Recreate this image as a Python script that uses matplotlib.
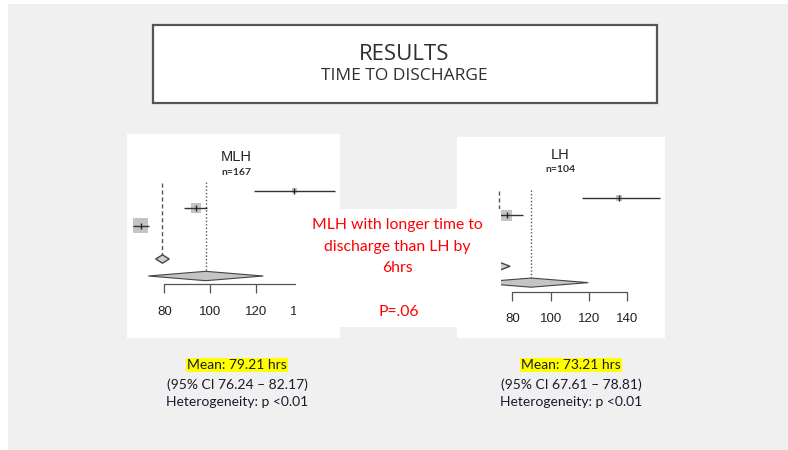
import numpy as np
import matplotlib
matplotlib.use('Agg')
from matplotlib import pyplot as plt
from matplotlib.patches import Rectangle, Polygon

W, H = 788, 450

# MLH forest plot (time to discharge, hrs)
mlh_rows = [1, 2, 3]
mlh_est = [136.9, 93.7, 69.7]
mlh_lo = [119.4, 88.8, 66.5]
mlh_hi = [154.9, 98.5, 73.4]
mlh_wt = [13, 52, 117]
mlh_summary = (76.24, 79.21, 82.17)
mlh_overall = (73.0, 98.1, 123.3)

# LH forest plot
lh_rows = [1, 2]
lh_est = [135.9, 77.2]
lh_lo = [116.2, 69.0]
lh_hi = [157.1, 85.4]
lh_wt = [19, 63]
lh_summary = (67.61, 73.21, 78.81)
lh_overall = (60.0, 89.8, 119.7)

ticks = [80, 100, 120, 140]

SLIDE_FONT = ['Lato', 'DejaVu Sans']
TITLE_FONT = ['Open Sans', 'DejaVu Sans']
PLOT_FONT = ['Liberation Sans', 'DejaVu Sans']


def px_axes(fig, x0, y0, x1, y1):
    # axes placed with slide pixel coordinates
    return fig.add_axes([x0 / W, (H - y1) / H, (x1 - x0) / W, (y1 - y0) / H])


def forest(ax, rows, est, lo, hi, wt, summary, summary_row, overall, overall_row,
           axis_row, dashed_rows, dotted_val, dotted_rows, title, n):
    ax.set_facecolor('white')
    for sp in ['top', 'left', 'right']:
        ax.spines[sp].set_visible(False)
    ax.hlines(rows, lo, hi, color='#333333', lw=1.0, zorder=3)
    ax.scatter(est, rows, s=wt, marker='s', color='#c4c4c4', lw=0, zorder=2)
    ax.scatter(est, rows, s=14, marker='|', color='#222222', lw=1.0, zorder=4)
    # summary diamond
    l, c, r = summary
    ax.add_patch(Polygon([[l, summary_row], [c, summary_row - 0.24], [r, summary_row],
                          [c, summary_row + 0.24]], closed=True, fc='#cfcfcf',
                         ec='#444444', lw=1.0, zorder=3))
    l, c, r = overall
    ax.add_patch(Polygon([[l, overall_row], [c, overall_row - 0.27], [r, overall_row],
                          [c, overall_row + 0.27]], closed=True, fc='#c4c4c4',
                         ec='#444444', lw=0.8, zorder=3))
    ax.vlines(summary[1], dashed_rows[0], dashed_rows[1], color='#555555', lw=1.0,
              linestyles=(0, (3, 2)), zorder=1)
    ax.vlines(dotted_val, dotted_rows[0], dotted_rows[1], color='#555555', lw=1.0,
              linestyles=(0, (1, 1.5)), zorder=1)
    ax.spines['bottom'].set_position(('data', axis_row))
    ax.spines['bottom'].set_bounds(ticks[0], ticks[-1])
    ax.spines['bottom'].set_color('#555555')
    ax.spines['bottom'].set_linewidth(0.9)
    ax.set_xticks(ticks)
    ax.set_yticks([])
    ax.tick_params(axis='x', direction='out', length=6.5, width=0.9, color='#555555',
                   pad=9, labelsize=9.5, labelcolor='#222222')
    for lab in ax.get_xticklabels():
        lab.set_family(PLOT_FONT)
    ax.text(title[0], title[1], title[2], transform=ax.transAxes, ha='center',
            va='center', fontsize=10.5, color='#222222', family=PLOT_FONT)
    ax.text(n[0], n[1], n[2], transform=ax.transAxes, ha='center', va='center',
            fontsize=7.5, fontweight='bold', color='#333333', family=SLIDE_FONT)


fig = plt.figure(figsize=(W / 100, H / 100), dpi=100, facecolor='white')

bg = fig.add_axes([0, 0, 1, 1])
bg.set_xlim(0, W)
bg.set_ylim(H, 0)
bg.axis('off')
bg.add_patch(Rectangle((8, 4), W - 8, H - 4, fc='#f0f0f0', ec='none'))
bg.add_patch(Rectangle((153, 25), 504, 78, fc='white', ec='#555555', lw=1.6))
bg.text(404, 54, 'RESULTS', ha='center', va='center', fontsize=16, color='#2e2e2e',
        family=TITLE_FONT)
bg.text(404, 76, 'TIME TO DISCHARGE', ha='center', va='center', fontsize=12.5,
        color='#2e2e2e', family=TITLE_FONT)

for cx, mean, ci in [(237, 'Mean: 79.21 hrs', '(95% CI 76.24 \u2013 82.17)'),
                     (571, 'Mean: 73.21 hrs', '(95% CI 67.61 \u2013 78.81)')]:
    bg.text(cx, 365, mean, ha='center', va='center', fontsize=10, color='#1a1a2e',
            family=SLIDE_FONT,
            bbox=dict(boxstyle='square,pad=0.05', fc='#ffff00', ec='none'))
    bg.text(cx, 385, ci, ha='center', va='center', fontsize=10, color='#1a1a2e',
            family=SLIDE_FONT)
    bg.text(cx, 402, 'Heterogeneity: p <0.01', ha='center', va='center', fontsize=10,
            color='#1a1a2e', family=SLIDE_FONT)

ax1 = px_axes(fig, 127, 134, 340, 338)
ax1.set_xlim(63.68, 156.89)
ax1.set_ylim(9.473, -2.285)
forest(ax1, mlh_rows, mlh_est, mlh_lo, mlh_hi, mlh_wt, mlh_summary, 4.92,
       mlh_overall, 5.9, 6.38, (0.54, 4.69), 98.1, (0.46, 5.93),
       (0.515, 0.889, 'MLH'), (0.515, 0.81, 'n=167'))

ax2 = px_axes(fig, 457, 137, 665, 338)
ax2.set_xlim(51.12, 159.74)
ax2.set_ylim(9.218, -2.606)
forest(ax2, lh_rows, lh_est, lh_lo, lh_hi, lh_wt, lh_summary, 5.0,
       lh_overall, 5.96, 6.5, (0.6, 2.6), 89.8, (0.53, 5.7),
       (0.495, 0.91, 'LH'), (0.495, 0.836, 'n=104'))

# white text box laid over the two plots
box = px_axes(fig, 296, 209, 501, 327)
box.set_xlim(296, 501)
box.set_ylim(327, 209)
box.set_facecolor('white')
box.set_xticks([])
box.set_yticks([])
for sp in box.spines.values():
    sp.set_visible(False)
red_lines = ['MLH with longer time to', 'discharge than LH by', '6hrs']
for y, s in zip([225, 247, 268], red_lines):
    box.text(397, y, s, ha='center', va='center', fontsize=11.3,
             color='#ff0000', family=SLIDE_FONT)
box.text(399, 312, 'P=.06', ha='center', va='center', fontsize=11.3,
         color='#ff0000', family=SLIDE_FONT)

fig.savefig('out.png', dpi=100, facecolor=fig.get_facecolor())
